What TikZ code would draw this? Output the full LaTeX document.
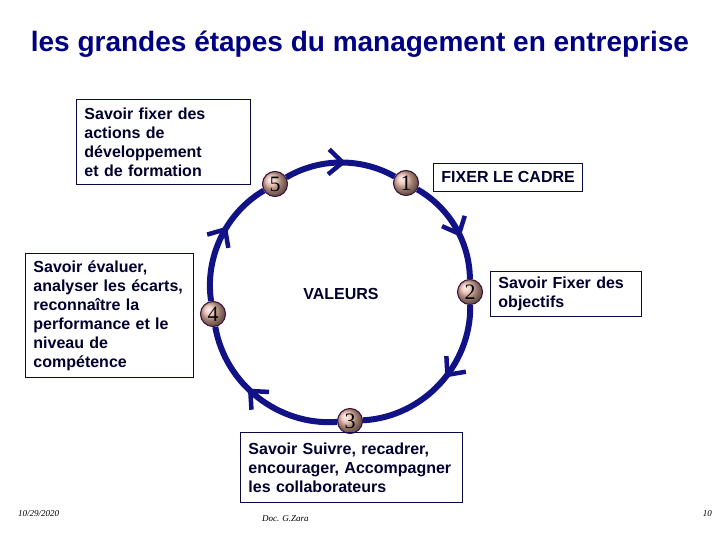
\documentclass[tikz,border=0pt]{standalone}
\usepackage{fontspec}
\setmainfont{Liberation Sans}
\newfontfamily\numfont{Liberation Serif}
\usetikzlibrary{arrows.meta,decorations.markings}
\definecolor{gzarc}{RGB}{18,18,135}
\definecolor{gztitle}{RGB}{0,0,130}
\definecolor{gzedge}{RGB}{10,10,70}
\definecolor{gzink}{RGB}{0,0,45}
\definecolor{gzball}{RGB}{232,182,166}
\definecolor{gzrim}{RGB}{60,20,60}
\tikzset{
  gzbox/.style={
    draw=gzedge, line width=0.9pt, anchor=north west, align=left,
    inner xsep=8pt, inner ysep=0pt, text=gzink,
    font=\bfseries\fontsize{16}{19}\selectfont
  },
  gznum/.style={
    circle, draw=gzrim, line width=1.1pt, ball color=gzball,
    minimum size=25pt, inner sep=0pt, font=\numfont\fontsize{22}{22}\selectfont
  },
  gzarc/.style={
    draw=gzarc, line width=6pt, postaction={decorate},
    decoration={markings, mark=at position #1 with
      {\arrow[gzarc]{Straight Barb[length=14pt,width=25pt,line width=4.5pt]}}}
  },
  gzfoot/.style={font=\numfont\itshape\fontsize{9}{9}\selectfont, inner sep=0pt}
}
\begin{document}
\begin{tikzpicture}[x=1pt,y=1pt]
  \useasboundingbox (0,0) rectangle (720,-540);
  \node[anchor=base, text=gztitle, font=\bfseries\fontsize{28}{28}\selectfont] (title) at (360,-52)
    {les grandes étapes du management en entreprise};

  % cycle
  \node[gznum] (n1) at (406,-183) {1};
  \node[gznum] (n2) at (470,-292) {2};
  \node[gznum] (n3) at (350,-421) {3};
  \node[gznum] (n4) at (213,-314) {4};
  \node[gznum] (n5) at (275,-184) {5};
  \foreach \p/\q/\b/\l/\m in {n5/n1/30/.91/.55, n1/n2/30/.91/.6, n2/n3/44/.98/.45, n3/n4/42/.97/.58, n4/n5/34/.92/.6}
    \draw[gzarc=\m] (\p) to[bend left=\b, looseness=\l] (\q);
  \node[text=gzink, font=\bfseries\fontsize{16}{19}\selectfont] (val) at (341,-294) {VALEURS};

  % boxes
  \node[gzbox, text width=158pt, minimum height=85pt] (bxA) at (76,-99)
    {Savoir fixer des\\actions de\\développement\\et de formation};
  \node[gzbox, text width=152pt, minimum height=124pt] (bxB) at (25,-253)
    {Savoir évaluer,\\analyser les écarts,\\reconnaître la\\performance et le\\niveau de\\compétence};
  \node[gzbox, minimum width=149pt, minimum height=28pt] (bxC) at (433,-163)
    {FIXER LE CADRE};
  \node[gzbox, text width=135pt, minimum height=45pt] (bxD) at (490,-271)
    {Savoir Fixer des\\objectifs};
  \node[gzbox, text width=206pt, minimum height=70pt] (bxE) at (240,-432)
    {Savoir Suivre, recadrer,\\encourager, Accompagner\\les collaborateurs};

  % footer
  \node[gzfoot, anchor=base west] (date) at (18,-516) {10/29/2020};
  \node[gzfoot, anchor=base west] (doc) at (262,-521) {Doc. G.Zara};
  \node[gzfoot, anchor=base east] (page) at (712,-516) {10};
\end{tikzpicture}
\end{document}
